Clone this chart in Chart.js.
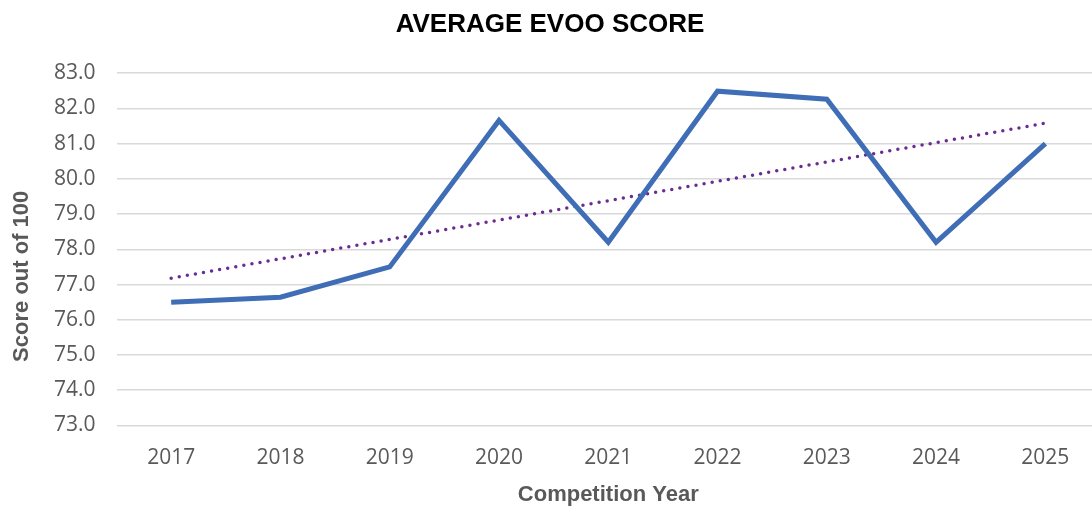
<!DOCTYPE html>
<html>
<head>
<meta charset="utf-8">
<title>Average EVOO Score</title>
<script src="https://cdn.jsdelivr.net/npm/chart.js@4/dist/chart.umd.min.js"></script>
<style>
    html, body { margin: 0; padding: 0; background: #fff; overflow: hidden; }
    #wrap { position: relative; width: 1100px; height: 508px; }
</style>
</head>
<body>
<div id="wrap"><canvas id="scoreChart"></canvas></div>
<script>
// competition years
const years = ['2017', '2018', '2019', '2020', '2021', '2022', '2023', '2024', '2025'];
// average score per year
const avgScores = [76.5, 76.64, 77.5, 81.66, 78.2, 82.49, 82.26, 78.2, 81.0];
// linear trendline, ends (gap in between)
const trendScores = [77.18, null, null, null, null, null, null, null, 81.58];
// y axis range
const yMin = 73;
const yMax = 83;
const yStep = 1;

const titleFont = "'Liberation Sans Narrow', 'Arial Narrow', 'Liberation Sans', Arial";
const yTitleText = 'Score out of 100';

// y axis title sits a bit below the plot's middle, as in the original
const yTitlePlugin = {
    id: 'yTitle',
    afterDraw(chart) {
        const { ctx, chartArea } = chart;
        const cy = (chartArea.top + chartArea.bottom) / 2 + 27;
        ctx.save();
        ctx.translate(22, cy);
        ctx.rotate(-Math.PI / 2);
        ctx.fillStyle = '#595959';
        ctx.font = 'bold 22px ' + titleFont;
        ctx.textAlign = 'center';
        ctx.textBaseline = 'middle';
        ctx.fillText(yTitleText, 0, 0);
        ctx.restore();
    }
};

const ctx = document.getElementById('scoreChart').getContext('2d');
new Chart(ctx, {
    type: 'line',
    data: {
        labels: years,
        datasets: [
            {
                label: 'Average score',
                data: avgScores,
                borderColor: '#3F6EB6',
                borderWidth: 5,
                pointRadius: 0,
                tension: 0,
                fill: false
            },
            {
                label: 'Linear trend',
                data: trendScores,
                borderColor: '#6A2C92',
                borderWidth: 3.5,
                borderDash: [0, 8.2],
                borderCapStyle: 'round',
                pointRadius: 0,
                spanGaps: true,
                fill: false
            }
        ]
    },
    options: {
        responsive: true,
        maintainAspectRatio: false,
        animation: false,
        layout: { padding: 0 },
        plugins: {
            legend: { display: false },
            tooltip: { enabled: false },
            title: {
                display: true,
                text: 'AVERAGE EVOO SCORE',
                color: '#000',
                font: { family: titleFont, size: 26, weight: 'bold' },
                padding: { top: 9, bottom: 33 }
            }
        },
        scales: {
            x: {
                offset: true,
                grid: { display: false },
                border: { display: false },
                ticks: { color: '#595959', font: { family: "'Open Sans'", size: 21 }, padding: 12 },
                title: {
                    display: true,
                    text: 'Competition Year',
                    color: '#595959',
                    font: { family: titleFont, size: 22, weight: 'bold' },
                    padding: { top: -1, bottom: 0 }
                }
            },
            y: {
                min: yMin,
                max: yMax,
                grid: { color: '#D9D9D9', lineWidth: 1.5, drawTicks: false },
                border: { display: false },
                afterFit: scale => { scale.width += 33; },
                ticks: {
                    stepSize: yStep,
                    color: '#595959',
                    font: { family: "'Open Sans'", size: 21 },
                    padding: 21,
                    callback: v => v.toFixed(1)
                }
            }
        }
    },
    plugins: [yTitlePlugin]
});
</script>
</body>
</html>
